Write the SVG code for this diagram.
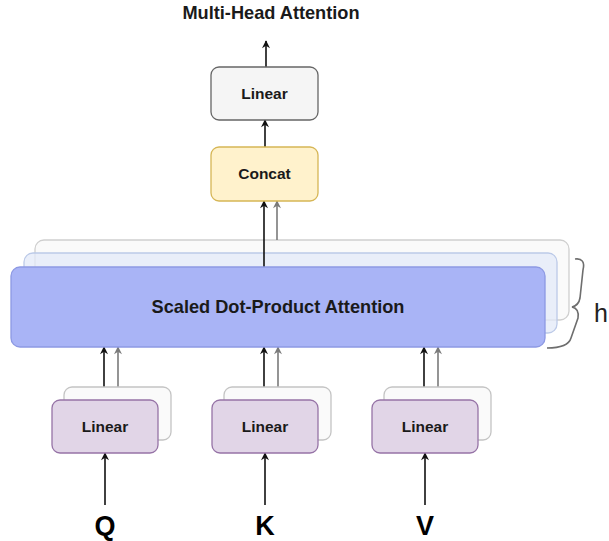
<svg xmlns="http://www.w3.org/2000/svg" width="609" height="541" viewBox="0 0 609 541">
  <style>
    .lbl { font-family: "Liberation Sans", Arial, sans-serif; font-weight: bold; fill: #1a1a1a; text-anchor: middle; }
    .small { font-size: 15.5px; }
    .big { font-size: 18.2px; }
    .io { font-family: "Liberation Sans", Arial, sans-serif; font-weight: bold; font-size: 27px; fill: #000; text-anchor: middle; }
    .lin { fill: #e1d5e7; stroke: #9673a6; stroke-width: 1.3; }
    .linBack { fill: #fafafa; stroke: #c4c4c4; stroke-width: 1.3; }
    .edge { fill: none; stroke: #111; stroke-width: 1.6; }
    .edgeGray { fill: none; stroke: #7a7a7a; stroke-width: 1.6; }
  </style>
  <defs>
    <marker id="arrowBlack" viewBox="0 0 10 10" refX="9" refY="5" markerWidth="8" markerHeight="8" markerUnits="userSpaceOnUse" orient="auto" overflow="visible">
      <path d="M0,0 L10,5 L0,10 L3,5 z" fill="#111"/>
    </marker>
    <marker id="arrowGray" viewBox="0 0 10 10" refX="9" refY="5" markerWidth="8" markerHeight="8" markerUnits="userSpaceOnUse" orient="auto" overflow="visible">
      <path d="M0,0 L10,5 L0,10 L3,5 z" fill="#7a7a7a"/>
    </marker>
  </defs>

  <rect width="609" height="541" fill="#ffffff"/>

  <!-- title -->
  <text class="lbl big" x="271" y="19">Multi-Head Attention</text>

  <!-- stacked attention heads (back to front) -->
  <g id="sdpa-back">
    <rect x="35" y="240" width="534" height="80" rx="9" fill="#fafafa" stroke="#cfcfcf" stroke-width="1.3"/>
  </g>
  <g id="sdpa-mid">
    <rect x="24" y="253" width="533" height="80" rx="9" fill="#e3e9f8" fill-opacity="0.75" stroke="#bccae8" stroke-width="1.3"/>
  </g>

  <g id="connectors">
    <!-- outputs of heads into Concat -->
    <line class="edgeGray" x1="277" y1="240" x2="277" y2="201" marker-end="url(#arrowGray)"/>
    <line class="edge" x1="264" y1="267" x2="264" y2="201" marker-end="url(#arrowBlack)"/>
    <!-- Concat to Linear -->
    <line class="edge" x1="265" y1="147" x2="265" y2="120" marker-end="url(#arrowBlack)"/>
    <!-- Linear to output -->
    <line class="edge" x1="266" y1="67" x2="266" y2="41" marker-end="url(#arrowBlack)"/>
    <!-- projections into attention -->
    <line class="edgeGray" x1="118" y1="387" x2="118" y2="347" marker-end="url(#arrowGray)"/>
    <line class="edge" x1="104" y1="400" x2="104" y2="347" marker-end="url(#arrowBlack)"/>
    <line class="edgeGray" x1="278" y1="387" x2="278" y2="347" marker-end="url(#arrowGray)"/>
    <line class="edge" x1="264" y1="400" x2="264" y2="347" marker-end="url(#arrowBlack)"/>
    <line class="edgeGray" x1="438" y1="387" x2="438" y2="347" marker-end="url(#arrowGray)"/>
    <line class="edge" x1="424" y1="400" x2="424" y2="347" marker-end="url(#arrowBlack)"/>
    <!-- inputs into Linear projections -->
    <line class="edge" x1="105" y1="505" x2="105" y2="453" marker-end="url(#arrowBlack)"/>
    <line class="edge" x1="265" y1="505" x2="265" y2="453" marker-end="url(#arrowBlack)"/>
    <line class="edge" x1="425" y1="505" x2="425" y2="453" marker-end="url(#arrowBlack)"/>
  </g>

  <g id="sdpa">
    <rect x="11" y="267" width="534" height="80" rx="9" fill="#a9b4f6" stroke="#8d99e3" stroke-width="1.3"/>
    <text class="lbl big" x="278" y="313">Scaled Dot-Product Attention</text>
  </g>

  <!-- head count brace -->
  <g id="brace">
    <path d="M575,259 C582,258 585,262 583,270 L580,298 C579,304 576,306 572,307 C577,308 579,311 578,318 L571,338 C569,345 562,348 547,348" fill="none" stroke="#6e6e6e" stroke-width="1.6"/>
    <text x="594" y="322" font-family="'Liberation Sans', Arial, sans-serif" font-size="25" fill="#222">h</text>
  </g>

  <g id="concat">
    <rect x="211" y="147" width="107" height="54" rx="8" fill="#fff2cc" stroke="#d6b656" stroke-width="1.3"/>
    <text class="lbl small" x="264.5" y="179">Concat</text>
  </g>

  <g id="linear-out">
    <rect x="211" y="67" width="107" height="53" rx="8" fill="#f5f5f5" stroke="#666666" stroke-width="1.3"/>
    <text class="lbl small" x="264.5" y="99">Linear</text>
  </g>

  <g id="linear-q">
    <rect class="linBack" x="64" y="387" width="107" height="53" rx="8"/>
    <rect class="lin" x="52" y="400" width="106" height="53" rx="8"/>
    <text class="lbl small" x="105" y="432">Linear</text>
  </g>
  <g id="linear-k">
    <rect class="linBack" x="224" y="387" width="107" height="53" rx="8"/>
    <rect class="lin" x="212" y="400" width="106" height="53" rx="8"/>
    <text class="lbl small" x="265" y="432">Linear</text>
  </g>
  <g id="linear-v">
    <rect class="linBack" x="384" y="387" width="107" height="53" rx="8"/>
    <rect class="lin" x="372" y="400" width="106" height="53" rx="8"/>
    <text class="lbl small" x="425" y="432">Linear</text>
  </g>

  <g id="inputs">
    <text class="io" x="105" y="535">Q</text>
    <text class="io" x="265" y="535">K</text>
    <text class="io" x="425" y="535">V</text>
  </g>
</svg>
